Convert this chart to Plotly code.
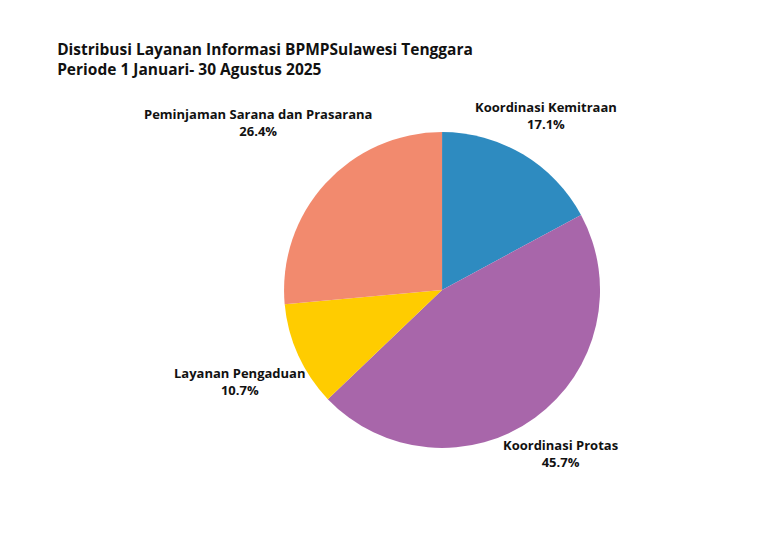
import math
import plotly.graph_objects as go

# data
kategori = ["Koordinasi Kemitraan", "Koordinasi Protas", "Layanan Pengaduan",
            "Peminjaman Sarana dan Prasarana"]
persen = [17.1, 45.7, 10.7, 26.4]
warna = ["#2E8BC0", "#A866AA", "#FFCC00", "#F28A6E"]

W, H = 768, 543
dom_x = [0.3594, 0.7709]
dom_y = [0.1897, 0.7716]

fig = go.Figure(go.Pie(
    labels=kategori,
    values=persen,
    sort=False,
    direction="clockwise",
    rotation=0,
    marker=dict(colors=warna, line=dict(width=0)),
    textinfo="none",
    domain=dict(x=dom_x, y=dom_y),
    showlegend=False,
    hoverinfo="label+percent",
))

# label luar: ditaruh di sudut tengah tiap irisan
cx = (dom_x[0] + dom_x[1]) / 2 * W
cy = (1 - (dom_y[0] + dom_y[1]) / 2) * H
r = (dom_y[1] - dom_y[0]) * H / 2
total = sum(persen)
cum = 0
for lab, v in zip(kategori, persen):
    mid = (cum + v / 2) / total * 2 * math.pi
    cum += v
    s, c = math.sin(mid), -math.cos(mid)
    hw = len(lab) * 7.25 / 2
    d = 1.05 * r + hw * abs(s)
    px_, py_ = cx + d * s, cy + d * c
    fig.add_annotation(
        x=px_ / W, y=1 - py_ / H, xref="paper", yref="paper",
        text=f"<b>{lab}</b><br><b>{v:.1f}%</b>",
        showarrow=False, xanchor="center", yanchor="middle", align="center",
        font=dict(family="Open Sans", size=13, color="#111111"),
    )

fig.update_layout(
    width=W, height=H,
    margin={"r": 0, "t": 0, "l": 0, "b": 0},
    paper_bgcolor="white",
    title=dict(
        text="<b>Distribusi Layanan Informasi BPMPSulawesi Tenggara<br>Periode 1 Januari- 30 Agustus 2025</b>",
        x=0.064, xanchor="left", y=0.913, yanchor="top",
        font=dict(family="Open Sans", size=15.5, color="#111111"),
    ),
)

fig.write_html("out.html")
